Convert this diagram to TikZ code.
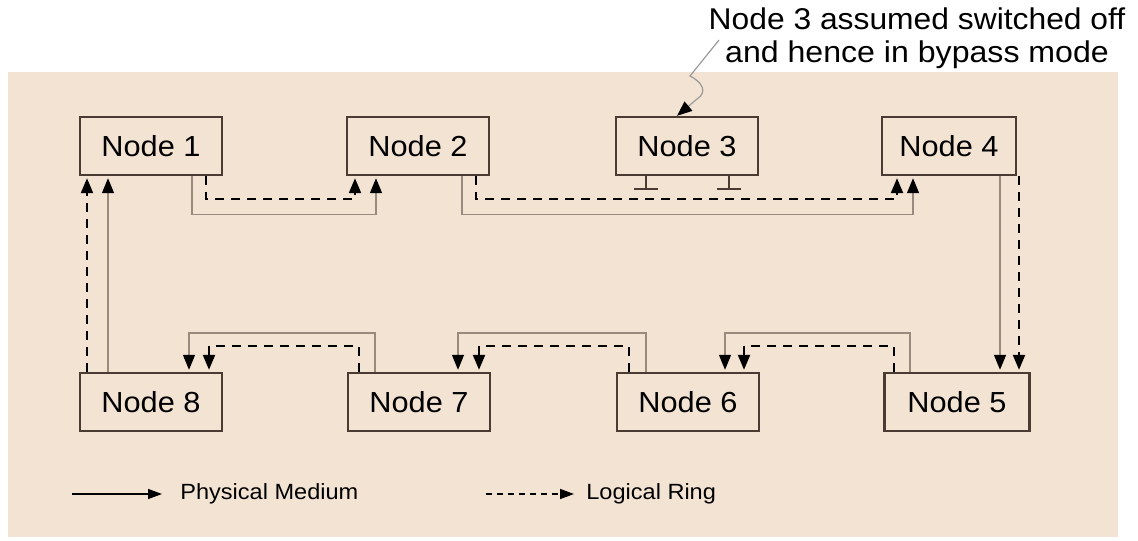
\documentclass[tikz,border=0pt]{standalone}
\usepackage{fontspec}
\usepackage{graphicx}
\setmainfont{Liberation Sans}
\usetikzlibrary{arrows.meta,calc}
\definecolor{bgc}{HTML}{F3E3D3}
\definecolor{boxc}{HTML}{4A3C32}
\definecolor{physc}{HTML}{9A8A7E}
\definecolor{callc}{HTML}{9A9A9A}
\newcommand\txw[2]{\scalebox{#1}[1]{#2}}
\begin{document}
\begin{tikzpicture}[x=0.5pt,y=-0.5pt,
  nodebox/.style={draw=boxc,line width=1.2pt,fill=bgc,minimum width=71pt,minimum height=29pt,inner sep=0pt,
    font=\fontsize{14.5}{16}\selectfont},
  tip/.style={-{Triangle[length=7.5pt,width=6pt,color=black,fill=black]}},
  phys/.style={draw=physc,line width=0.7pt,tip},
  logic/.style={draw=black,line width=1.1pt,dash pattern=on 4.5pt off 3.5pt,tip},
  lab/.style={font=\fontsize{11}{13}\selectfont,anchor=west,inner sep=0pt}]
\useasboundingbox (0,0) rectangle (1138,540);
\fill[bgc] (8,72) rectangle (1118,537);
% nodes
\node[nodebox] (N1) at (151,146) {\txw{1.06}{Node 1}};
\node[nodebox] (N2) at (418,146) {\txw{1.06}{Node 2}};
\node[nodebox] (N3) at (687,146) {\txw{1.06}{Node 3}};
\node[nodebox,minimum width=67pt] (N4) at (949,146) {\txw{1.06}{Node 4}};
\node[nodebox] (N8) at (151,402) {\txw{1.06}{Node 8}};
\node[nodebox] (N7) at (419,402) {\txw{1.06}{Node 7}};
\node[nodebox] (N6) at (688,402) {\txw{1.06}{Node 6}};
\node[nodebox,minimum width=72.5pt] (N5) at (957,402) {\txw{1.06}{Node 5}};
% node 3 bypass stubs
\draw[boxc,line width=0.9pt] ($(N3.south)+(-41,0)$) -- ++(0,13) ++(-12,0) -- ++(24,0);
\draw[boxc,line width=0.9pt] ($(N3.south)+(42,0)$) -- ++(0,13) ++(-12,0) -- ++(24,0);
% top row connectors
\draw[phys] ($(N1.south)+(41,0)$) |- ($(N2.south)+(-42,38)$) -- ($(N2.south)+(-42,2)$);
\draw[logic] ($(N1.south)+(55,0)$) |- ($(N2.south)+(-63,23)$) -- ($(N2.south)+(-63,2)$);
\draw[phys] ($(N2.south)+(44,0)$) |- ($(N4.south)+(-36,38)$) -- ($(N4.south)+(-36,2)$);
\draw[logic] ($(N2.south)+(58,0)$) |- ($(N4.south)+(-52,23)$) -- ($(N4.south)+(-52,2)$);
% right side
\draw[phys] ($(N4.south)+(51,0)$) -- ($(N5.north)+(43,-2)$);
\draw[logic] ($(N4.south)+(70,0)$) -- ($(N5.north)+(62,-2)$);
% bottom row connectors
\draw[phys] ($(N5.north)+(-47,0)$) |- ($(N6.north)+(37,-39)$) -- ($(N6.north)+(37,-2)$);
\draw[logic] ($(N5.north)+(-63,0)$) |- ($(N6.north)+(56,-26)$) -- ($(N6.north)+(56,-2)$);
\draw[phys] ($(N6.north)+(-42,0)$) |- ($(N7.north)+(39,-39)$) -- ($(N7.north)+(39,-2)$);
\draw[logic] ($(N6.north)+(-59,0)$) |- ($(N7.north)+(60,-26)$) -- ($(N7.north)+(60,-2)$);
\draw[phys] ($(N7.north)+(-44,0)$) |- ($(N8.north)+(38,-39)$) -- ($(N8.north)+(38,-2)$);
\draw[logic] ($(N7.north)+(-60,0)$) |- ($(N8.north)+(58,-26)$) -- ($(N8.north)+(58,-2)$);
% left side
\draw[phys] ($(N8.north)+(-43,0)$) -- ($(N1.south)+(-43,2)$);
\draw[logic] ($(N8.north)+(-64,0)$) -- ($(N1.south)+(-64,2)$);
% annotation
\node[align=center,inner sep=0pt,font=\fontsize{15}{16.5}\selectfont] (ann) at (917,38)
  {\txw{1.06}{Node 3 assumed switched off}\\\txw{1.07}{and hence in bypass mode}};
\coordinate (cs) at (719,40);
\draw[callc,line width=0.6pt,tip]
  (cs) -- (690,76) .. controls (702,82) and (708,92) .. (697,99) -- ($(N3.north)+(-10,0)$);
% legend
\node[lab] (pm) at (180,494) {\txw{1.07}{Physical Medium}};
\node[lab] (lr) at (586,494) {\txw{1.07}{Logical Ring}};
\coordinate (pms) at (72,494);
\coordinate (lrs) at (486,494);
\draw[black,line width=0.7pt,-{Triangle[length=7pt,width=5pt]}] (pms) -- ($(pm.west)+(-18,0)$);
\draw[black,line width=0.7pt,dash pattern=on 3pt off 2.5pt,-{Triangle[length=7pt,width=5pt]}] (lrs) -- ($(lr.west)+(-12,0)$);
\end{tikzpicture}
\end{document}
